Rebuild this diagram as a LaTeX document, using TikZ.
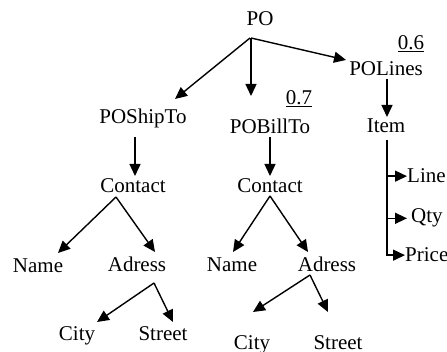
\documentclass[tikz,border=0pt]{standalone}
\usepackage{fontspec}
\setmainfont{Liberation Serif}
\usetikzlibrary{arrows.meta,calc}
\begin{document}
\begin{tikzpicture}[x=1pt,y=-1pt,
  lbl/.style={inner sep=0pt,anchor=base,font=\fontsize{21}{25}\selectfont},
  lbll/.style={lbl,anchor=base west},
  arr/.style={line width=1.4pt,-{Triangle[length=12pt,width=11pt]}},
  ln/.style={line width=1.4pt}]
\useasboundingbox (0,0) rectangle (447,352);
% nodes
\node[lbl] (PO) at (260,26) {PO};
\node[lbl] (ShipTo) at (143,124) {POShipTo};
\node[lbl] (BillTo) at (270,134) {POBillTo};
\node[lbl] (Lines) at (386,76) {POLines};
\node[lbl] (w6) at (411,50) {\underline{0.6}};
\node[lbl] (w7) at (299,105) {\underline{0.7}};
\node[lbl] (Item) at (386,133) {Item};
\node[lbll] (Line) at (407,183) {Line};
\node[lbll] (Qty) at (411,223) {Qty};
\node[lbll] (Price) at (405,262) {Price};
\node[lbl] (ContL) at (133,193) {Contact};
\node[lbl] (ContR) at (270,193) {Contact};
\node[lbl] (NameL) at (38,273) {Name};
\node[lbl] (AdrL) at (137,272) {Adress};
\node[lbl] (NameR) at (232,272) {Name};
\node[lbl] (AdrR) at (327,272) {Adress};
\node[lbl] (CityL) at (77,341) {City};
\node[lbl] (StreetL) at (163,341) {Street};
\node[lbl] (CityR) at (252,350) {City};
\node[lbl] (StreetR) at (338,350) {Street};
% connectors
\draw[arr] ($(PO.base)+(-10,12)$) -- ($(ShipTo.base)+(32,-25)$);
\draw[arr] ($(PO.base)+(-9,12)$) -- ($(BillTo.base)+(-19,-38)$);
\draw[arr] ($(PO.base)+(-9,12)$) -- ($(Lines.base)+(-40,-16)$);
\draw[arr] ($(ShipTo.base)+(-8,13)$) -- ($(ContL.base)+(2,-17)$);
\draw[arr] ($(BillTo.base)+(0,3)$) -- ($(ContR.base)+(0,-17)$);
\draw[arr] ($(Lines.base)+(1,3)$) -- ($(Item.base)+(1,-16)$);
\coordinate (stem) at ($(Item.base)+(1,7)$);
\draw[arr] (stem) |- (Price.west);
\draw[arr] (stem |- Line.west) -- (Line.west);
\draw[arr] (stem |- Qty.west) -- ([xshift=-4pt]Qty.west);
\draw[arr] ($(ContL.base)+(-17,4)$) -- ($(NameL.base)+(20,-20)$);
\draw[arr] ($(ContL.base)+(-17,4)$) -- ($(AdrL.base)+(18,-20)$);
\draw[arr] ($(ContR.base)+(0,3)$) -- ($(NameR.base)+(1,-20)$);
\draw[arr] ($(ContR.base)+(0,3)$) -- ($(AdrR.base)+(-19,-20)$);
\draw[arr] ($(AdrL.base)+(17,11)$) -- ($(CityL.base)+(20,-19)$);
\draw[arr] ($(AdrL.base)+(17,11)$) -- ($(StreetL.base)+(10,-19)$);
\draw[arr] ($(AdrR.base)+(-17,3)$) -- ($(CityR.base)+(1,-38)$);
\draw[arr] ($(AdrR.base)+(-17,3)$) -- ($(StreetR.base)+(-10,-38)$);
\end{tikzpicture}
\end{document}
